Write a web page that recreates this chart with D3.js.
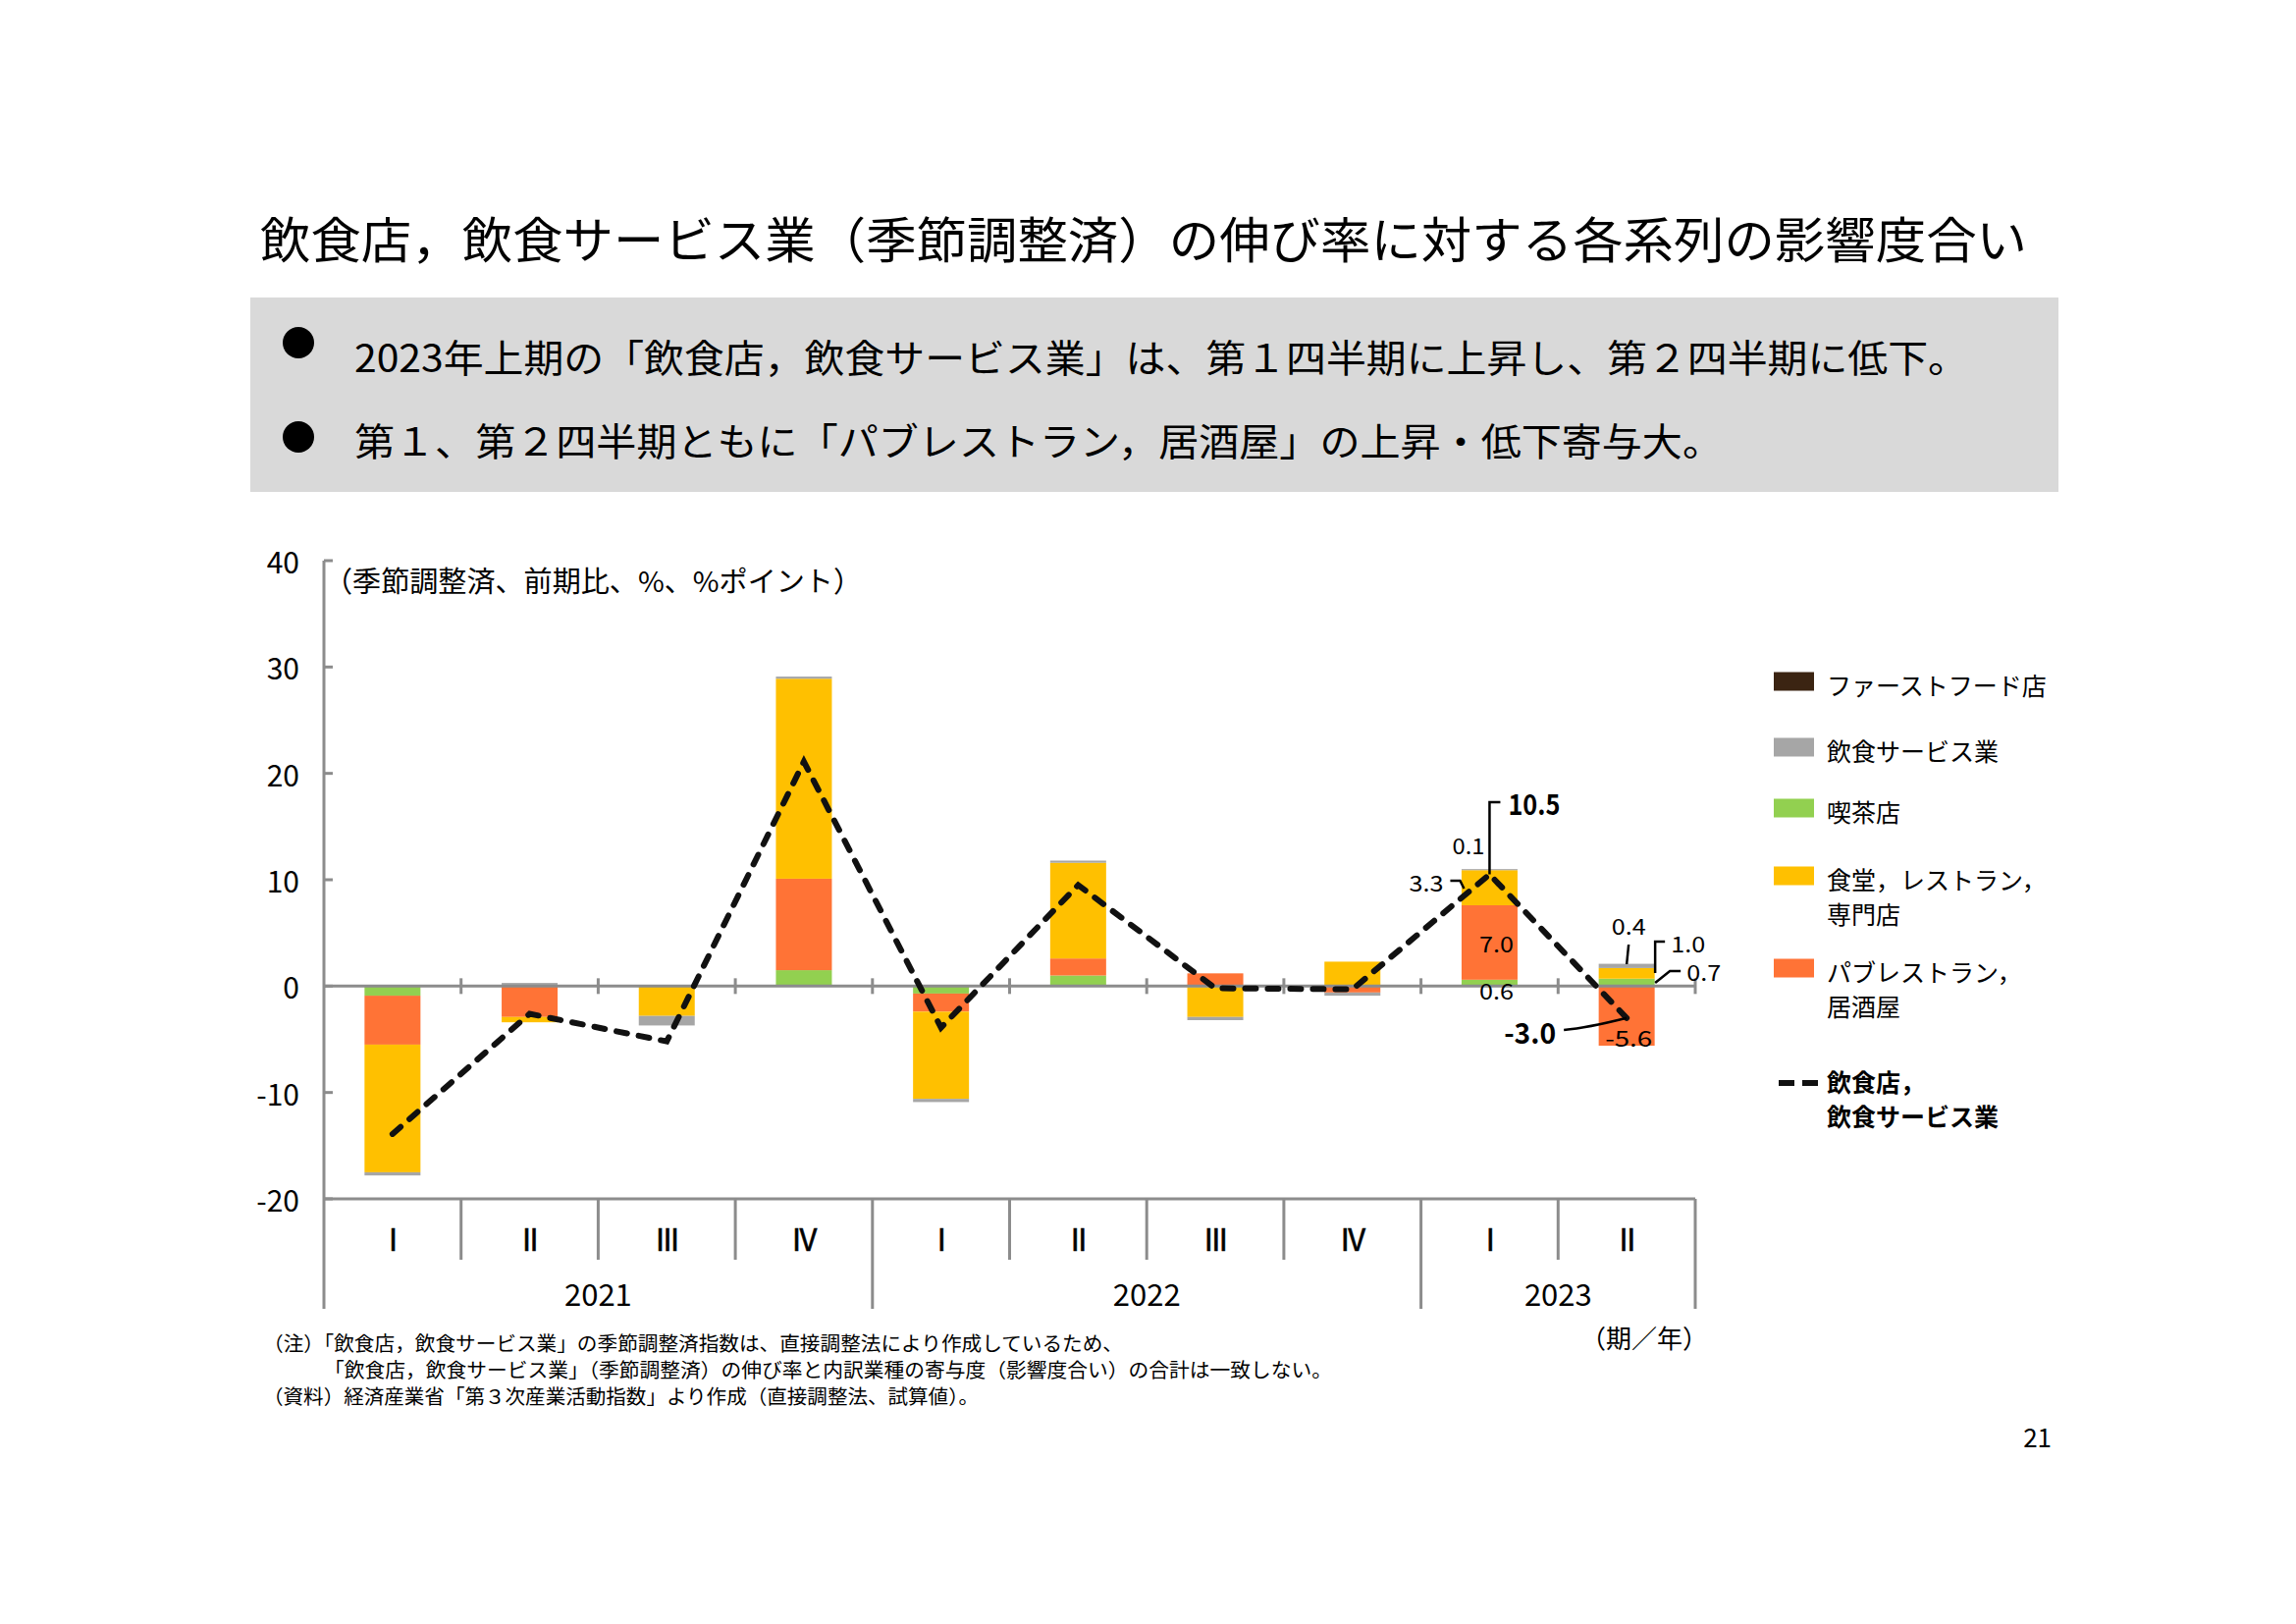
<!DOCTYPE html>
<html>
<head>
<meta charset="utf-8">
<script src="https://cdn.jsdelivr.net/npm/d3@7"></script>
<style>
  body { margin: 0; background: #fff; }
  text { font-family: "Noto Sans CJK JP", "Noto Sans", sans-serif; }
</style>
</head>
<body>
<div id="chart"></div>
<script>
// Data
var quarters = ["I", "II", "III", "IV", "I", "II", "III", "IV", "I", "II"];
var years = ["2021", "2022", "2023"];
var yearQuarters = [4, 4, 2];

var kissa = [-0.9, 0.0, 0.1, 1.5, -0.7, 1.0, -0.1, 0.0, 0.6, 0.7];       // 喫茶店
var pub = [-4.6, -2.9, 0.0, 8.6, -1.7, 1.6, 1.2, -0.6, 7.0, -5.6];       // パブレストラン，居酒屋
var shokudo = [-12.0, -0.5, -2.8, 18.8, -8.2, 9.0, -2.8, 2.3, 3.3, 1.0]; // 食堂，レストラン，専門店
var service = [-0.3, 0.3, -0.9, 0.2, -0.3, 0.2, -0.3, -0.3, 0.1, 0.4];   // 飲食サービス業
var fastFood = [0, 0, 0, 0, 0, 0, 0, 0, 0, 0];                           // ファーストフード店
var total = [-13.9, -2.6, -5.2, 21.1, -3.9, 9.5, -0.2, -0.3, 10.5, -3.0]; // 飲食店，飲食サービス業

var yTicks = [40, 30, 20, 10, 0, -10, -20];

var colors = {
    kissa: "#92D050",
    pub: "#FF7336",
    shokudo: "#FFC000",
    service: "#A6A6A6",
    fastFood: "#3B2412"
};
var axisColour = "#8C8C8C";

var svg = d3.select("#chart").append("svg")
    .attr("width", 2339)
    .attr("height", 1654)
    .style("background", "#ffffff");

// Title
svg.append("text")
    .attr("x", 265).attr("y", 241)
    .attr("dominant-baseline", "central")
    .attr("font-size", 50)
    .attr("textLength", 1800)
    .attr("lengthAdjust", "spacingAndGlyphs")
    .text("飲食店，飲食サービス業（季節調整済）の伸び率に対する各系列の影響度合い");

// Summary box
svg.append("rect")
    .attr("x", 255).attr("y", 303)
    .attr("width", 1842).attr("height", 198)
    .attr("fill", "#D9D9D9");

var bullets = [
    { text: "2023年上期の「飲食店，飲食サービス業」は、第１四半期に上昇し、第２四半期に低下。", w: 1644, y: 362, by: 349 },
    { text: "第１、第２四半期ともに「パブレストラン，居酒屋」の上昇・低下寄与大。", w: 1394, y: 447, by: 445 }
];
bullets.forEach(function(b) {
    svg.append("circle").attr("cx", 304).attr("cy", b.by).attr("r", 16).attr("fill", "#000");
    svg.append("text")
        .attr("x", 361).attr("y", b.y)
        .attr("dominant-baseline", "central")
        .attr("font-size", 39)
        .attr("textLength", b.w)
        .attr("lengthAdjust", "spacingAndGlyphs")
        .text(b.text);
});

// Scales
var x = d3.scaleBand().domain(d3.range(quarters.length)).range([330, 1727]).padding(0);
var y = d3.scaleLinear().domain([-20, 40]).range([1221, 571]);
var barWidth = 57;
var cx = function(i) { return x(i) + x.bandwidth() / 2; };

// Stacked bars
var keys = ["kissa", "pub", "shokudo", "service", "fastFood"];
var table = quarters.map(function(q, i) {
    return { kissa: kissa[i], pub: pub[i], shokudo: shokudo[i], service: service[i], fastFood: fastFood[i] };
});
var series = d3.stack().keys(keys).offset(d3.stackOffsetDiverging)(table);

svg.append("g").selectAll("g")
    .data(series)
    .enter().append("g")
    .attr("fill", function(d) { return colors[d.key]; })
    .selectAll("rect")
    .data(function(d) { return d; })
    .enter().append("rect")
    .attr("x", function(d, i) { return cx(i) - barWidth / 2; })
    .attr("width", barWidth)
    .attr("y", function(d) { return y(Math.max(d[0], d[1])); })
    .attr("height", function(d) { return Math.abs(y(d[0]) - y(d[1])); });

// Axes
var axes = svg.append("g").attr("stroke", axisColour).attr("stroke-width", 3).attr("fill", "none");
// y axis line and inward ticks
axes.append("line").attr("x1", 330).attr("x2", 330).attr("y1", y(40)).attr("y2", 1333);
yTicks.forEach(function(t) {
    axes.append("line").attr("x1", 330).attr("x2", 339).attr("y1", y(t)).attr("y2", y(t));
});
// zero line with ticks at category boundaries
axes.append("line").attr("x1", 330).attr("x2", 1727).attr("y1", y(0)).attr("y2", y(0));
d3.range(1, quarters.length + 1).forEach(function(i) {
    var xb = i < quarters.length ? x(i) : 1727;
    axes.append("line").attr("x1", xb).attr("x2", xb).attr("y1", y(0) - 8).attr("y2", y(0) + 8);
});
// bottom axis
axes.append("line").attr("x1", 330).attr("x2", 1727).attr("y1", y(-20)).attr("y2", y(-20));
var yearEnds = [];
var acc = 0;
yearQuarters.forEach(function(n) { acc += n; yearEnds.push(acc); });
d3.range(1, quarters.length + 1).forEach(function(i) {
    var xb = i < quarters.length ? x(i) : 1727;
    var isYear = yearEnds.indexOf(i) >= 0;
    axes.append("line").attr("x1", xb).attr("x2", xb)
        .attr("y1", y(-20)).attr("y2", isYear ? 1333 : 1283);
});

// y tick labels
svg.append("g").selectAll("text")
    .data(yTicks).enter().append("text")
    .attr("x", 305).attr("y", function(d) { return y(d); })
    .attr("text-anchor", "end")
    .attr("dominant-baseline", "central")
    .attr("font-size", 30)
    .text(function(d) { return d; });

// category labels (serif roman numerals)
svg.append("g").selectAll("text")
    .data(quarters).enter().append("text")
    .attr("x", function(d, i) { return cx(i); })
    .attr("y", 1260)
    .attr("text-anchor", "middle")
    .attr("dominant-baseline", "central")
    .attr("font-family", "Liberation Serif, DejaVu Serif, serif")
    .attr("font-size", 31)
    .attr("letter-spacing", -1.5)
    .attr("stroke", "#000")
    .attr("stroke-width", 0.6)
    .text(function(d) { return d; });

var start = 0;
years.forEach(function(yr, k) {
    var n = yearQuarters[k];
    var mid = (x(start) + x(start + n - 1) + x.bandwidth()) / 2;
    svg.append("text")
        .attr("x", mid).attr("y", 1316)
        .attr("text-anchor", "middle")
        .attr("dominant-baseline", "central")
        .attr("font-size", 31)
        .text(yr);
    start += n;
});

// unit label
svg.append("text")
    .attr("x", 330).attr("y", 590)
    .attr("dominant-baseline", "central")
    .attr("font-size", 29)
    .attr("textLength", 548)
    .attr("lengthAdjust", "spacingAndGlyphs")
    .text("（季節調整済、前期比、%、%ポイント）");

// total line
var line = d3.line()
    .x(function(d, i) { return cx(i); })
    .y(function(d) { return y(d); });
svg.append("path")
    .datum(total)
    .attr("d", line)
    .attr("fill", "none")
    .attr("stroke", "#111")
    .attr("stroke-width", 6)
    .attr("stroke-linecap", "round")
    .attr("stroke-dasharray", "11,12");

// Annotations for 2023
var a = svg.append("g");
var leader = a.append("g").attr("stroke", "#000").attr("stroke-width", 2.5).attr("fill", "none");
var c8 = cx(8), c9 = cx(9);

function numLabel(txt, xx, yy, anchor, w, bold) {
    a.append("text")
        .attr("x", xx).attr("y", yy)
        .attr("text-anchor", anchor)
        .attr("dominant-baseline", "central")
        .attr("font-family", bold ? "Liberation Sans, sans-serif" : "Liberation Mono, monospace")
        .attr("font-weight", bold ? "bold" : "normal")
        .attr("font-size", bold ? 29 : 22)
        .attr("textLength", w)
        .attr("lengthAdjust", "spacingAndGlyphs")
        .text(txt);
}

leader.append("path").attr("d", "M" + c8 + "," + y(total[8]) + "V817H" + (c8 + 11));
numLabel(total[8].toFixed(1), c8 + 19, 817, "start", 53, true);
numLabel(service[8].toFixed(1), c8 - 5, 860, "end", 33, false);
leader.append("path").attr("d", "M" + (c8 - 40) + ",897H" + (c8 - 30) + "L" + (c8 - 26) + ",905");
numLabel(shokudo[8].toFixed(1), c8 - 47, 898, "end", 35, false);
numLabel(pub[8].toFixed(1), c8 + 7, 960, "middle", 35, false);
numLabel(kissa[8].toFixed(1), c8 + 7, 1008, "middle", 35, false);

numLabel(service[9].toFixed(1), c9 + 2, 942, "middle", 35, false);
leader.append("path").attr("d", "M" + (c9 + 2) + ",962L" + c9 + ",982");
leader.append("path").attr("d", "M" + (c9 + 29) + ",991V959H" + (c9 + 39));
numLabel(shokudo[9].toFixed(1), c9 + 45, 960, "start", 35, false);
leader.append("path").attr("d", "M" + (c9 + 29) + ",1001L" + (c9 + 44) + ",989H" + (c9 + 55));
numLabel(kissa[9].toFixed(1), c9 + 61, 989, "start", 35, false);
leader.append("path").attr("d", "M" + (c9 - 64) + ",1049Q" + (c9 - 40) + ",1047 " + c9 + "," + y(total[9]));
numLabel(total[9].toFixed(1), c9 - 72, 1050, "end", 53, true);
numLabel(pub[9].toFixed(1), c9 + 2, 1056, "middle", 48, false);

// Legend
var legendItems = [
    { key: "fastFood", lines: ["ファーストフード店"], y: 694 },
    { key: "service", lines: ["飲食サービス業"], y: 761 },
    { key: "kissa", lines: ["喫茶店"], y: 823 },
    { key: "shokudo", lines: ["食堂，レストラン，", "専門店"], y: 892 },
    { key: "pub", lines: ["パブレストラン，", "居酒屋"], y: 986 }
];
var lg = svg.append("g");
legendItems.forEach(function(it) {
    lg.append("rect")
        .attr("x", 1807).attr("y", it.y - 9.5)
        .attr("width", 41).attr("height", 19)
        .attr("fill", colors[it.key]);
    it.lines.forEach(function(t, j) {
        lg.append("text")
            .attr("x", 1861).attr("y", it.y + 3 + j * 35)
            .attr("dominant-baseline", "central")
            .attr("font-size", 25)
            .text(t);
    });
});
lg.append("line")
    .attr("x1", 1812).attr("x2", 1852).attr("y1", 1103).attr("y2", 1103)
    .attr("stroke", "#111").attr("stroke-width", 6)
    .attr("stroke-dasharray", "16,8");
["飲食店，", "飲食サービス業"].forEach(function(t, j) {
    lg.append("text")
        .attr("x", 1861).attr("y", 1101 + j * 35)
        .attr("dominant-baseline", "central")
        .attr("font-size", 25)
        .attr("font-weight", "bold")
        .text(t);
});

// Period / year label
svg.append("text")
    .attr("x", 1740).attr("y", 1361)
    .attr("text-anchor", "end")
    .attr("dominant-baseline", "central")
    .attr("font-size", 26)
    .text("（期／年）");

// Notes
var notes = [
    { text: "（注）「飲食店，飲食サービス業」の季節調整済指数は、直接調整法により作成しているため、", x: 268, y: 1367, w: 876 },
    { text: "「飲食店，飲食サービス業」（季節調整済）の伸び率と内訳業種の寄与度（影響度合い）の合計は一致しない。", x: 330, y: 1394, w: 1027 },
    { text: "（資料）経済産業省「第３次産業活動指数」より作成（直接調整法、試算値）。", x: 268, y: 1421, w: 729 }
];
notes.forEach(function(n) {
    svg.append("text")
        .attr("x", n.x).attr("y", n.y)
        .attr("dominant-baseline", "central")
        .attr("font-size", 20)
        .attr("textLength", n.w)
        .attr("lengthAdjust", "spacingAndGlyphs")
        .text(n.text);
});

// Page number
svg.append("text")
    .attr("x", 2090).attr("y", 1462)
    .attr("text-anchor", "end")
    .attr("dominant-baseline", "central")
    .attr("font-size", 26)
    .text("21");
</script>
</body>
</html>
